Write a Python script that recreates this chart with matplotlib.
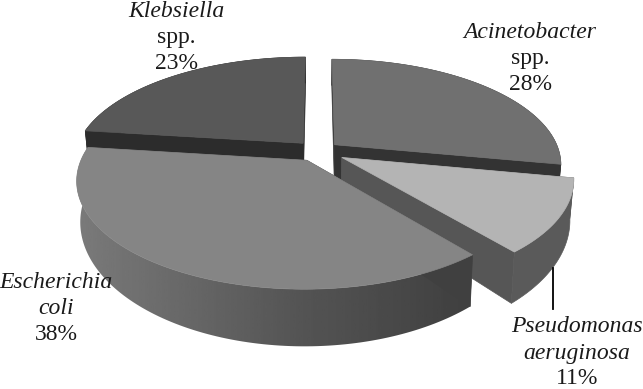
import numpy as np
import matplotlib
matplotlib.use("Agg")
import matplotlib.pyplot as plt
from matplotlib.patches import Polygon

# slices go clockwise, the first one ends at 12 o'clock
names = ["Klebsiella\nspp.", "Acinetobacter\nspp.", "Pseudomonas\naeruginosa", "Escherichia\ncoli"]
values = [23, 28, 11, 38]
explode = [0.10, 0.095, 0.12, 0.10]
radius = [1.0, 0.985, 0.985, 0.975]
top_colors = ["#585858", "#707070", "#b4b4b4", "#858585"]
inner_colors = ["#2c2c2c", "#333333", "#565656", "#404040"]
wall_colors = ["#2c2c2c", "#333333", "#5a5a5a", None]
draw_order = [0, 1, 2, 3]

# label placement in pixels (centre x, first line y)
label_pos = [(176, 11), (530, 32), (577, 327), (56, 283)]
line_gap = 26

cx, cy = 318, 151
rx, ry = 228, 104.6
persp = 0.184
depth = 37


def project(u, v):
    w = 1 / (1 + persp * v)
    return cx + rx * u * w, cy - ry * v * w


def drop(x, y, v):
    # bottom rim of the pie, sits lower the closer it is to the viewer
    w = 1 / (1 + persp * v)
    return cx + (x - cx) * 0.985, y + depth * w ** 2


fig = plt.figure(figsize=(6.43, 3.89), dpi=100)
ax = fig.add_axes([0, 0, 1, 1])

edges = np.cumsum([0] + values) / sum(values) * 360
start = 90 + values[0] / sum(values) * 360
for i in draw_order:
    a1 = np.radians(start - edges[i])
    a2 = np.radians(start - edges[i + 1])
    mid = (a1 + a2) / 2
    ox, oy = explode[i] * np.cos(mid), explode[i] * np.sin(mid)
    angles = np.linspace(a1, a2, 120)
    u = ox + radius[i] * np.cos(angles)
    v = oy + radius[i] * np.sin(angles)
    x, y = project(u, v)
    xb, yb = drop(x, y, v)

    # apex of the slice
    px, py = project(ox, oy)
    pxb, pyb = drop(px, py, oy)

    # radial faces
    for ex, ey, exb, eyb in [(x[0], y[0], xb[0], yb[0]), (x[-1], y[-1], xb[-1], yb[-1])]:
        face = [(px, py), (ex, ey), (exb, eyb), (pxb, pyb)]
        ax.add_patch(Polygon(face, closed=True, fc=inner_colors[i], ec=inner_colors[i], lw=0.5))

    # outer wall, the big slice has a shaded one
    wall = list(zip(x, y)) + list(zip(xb[::-1], yb[::-1]))
    if wall_colors[i] is None:
        patch = Polygon(wall, closed=True, fc="none", ec="none")
        ax.add_patch(patch)
        xs = np.linspace(60, 480, 200)
        shade = np.interp(xs, [75, 300, 468], [0.48, 0.33, 0.25]).reshape(1, -1)
        im = ax.imshow(shade, cmap="gray", vmin=0, vmax=1, aspect="auto", extent=[60, 480, 389, 0])
        im.set_clip_path(patch)
    else:
        ax.add_patch(Polygon(wall, closed=True, fc=wall_colors[i], ec=wall_colors[i], lw=0.5))

    # top
    top = [(px, py)] + list(zip(x, y))
    ax.add_patch(Polygon(top, closed=True, fc=top_colors[i], ec=top_colors[i], lw=0.5))

# leader line of the small slice
ax.plot([552.5, 552.5], [268, 309], color="black", lw=1.3)

ax.set_xlim(0, 643)
ax.set_ylim(389, 0)
ax.axis("off")

for name, val, (tx, ty) in zip(names, values, label_pos):
    lines = name.split("\n")
    for j, line in enumerate(lines):
        ax.text(tx, ty + j * line_gap, line, family="Liberation Serif",
                style="normal" if line == "spp." else "italic",
                fontsize=17, ha="center", va="center", color="#1a1a1a")
    ax.text(tx, ty + len(lines) * line_gap, str(val) + "%", family="Liberation Serif",
            fontsize=17, ha="center", va="center", color="#1a1a1a")

fig.savefig("out.png", dpi=100)
